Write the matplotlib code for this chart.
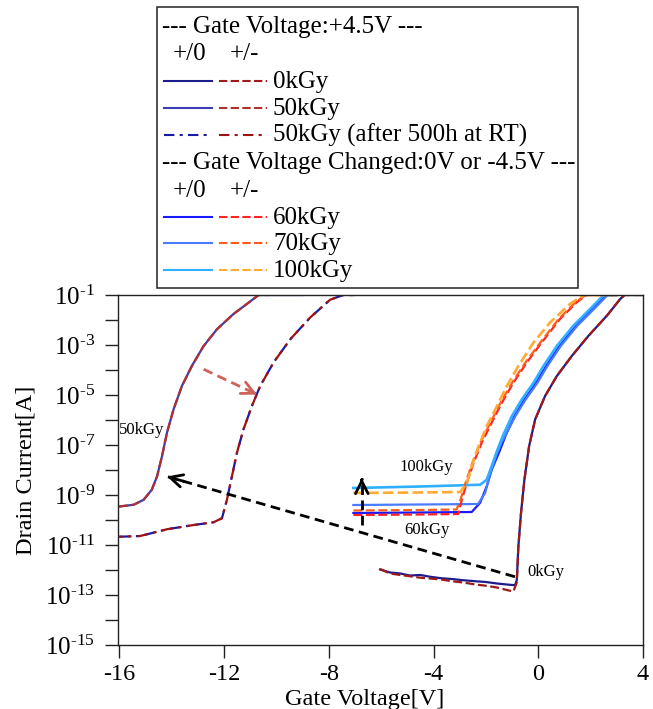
import matplotlib
matplotlib.use('Agg')
import matplotlib.pyplot as plt
from matplotlib.patches import Rectangle
import numpy as np

plt.rcParams['font.family'] = 'Liberation Serif'
plt.rcParams['mathtext.fontset'] = 'custom'
plt.rcParams['mathtext.rm'] = 'Liberation Serif'
plt.rcParams['mathtext.default'] = 'regular'
plt.rcParams['axes.unicode_minus'] = False

# ---- data: gate voltage [V] and log10(drain current [A]) ----
# +4.5V gate, 0kGy
v0_b = [-6.04, -5.66, -5.27, -4.9, -4.5, -4.13, -3.7, -3.3, -2.86, -2.4, -2.0, -1.58, -1.2, -0.89,
        -0.82, -0.76, -0.66, -0.53, -0.35, -0.12, 0.26, 0.71, 1.28, 1.92, 2.62, 3.13, 3.3, 4.0]
l0_b = [-11.98, -12.10, -12.14, -12.22, -12.20, -12.27, -12.33, -12.36, -12.41, -12.45, -12.48, -12.54, -12.58, -12.61,
        -12.41, -11.07, -9.73, -8.39, -7.05, -5.98, -5.04, -4.24, -3.44, -2.63, -1.83, -1.16, -1.0, -1.0]
v0_r = [-6.04, -5.66, -5.27, -4.9, -4.5, -4.13, -3.7, -3.3, -2.86, -2.4, -2.0, -1.58, -1.2, -0.95,
        -0.82, -0.76, -0.66, -0.53, -0.35, -0.12, 0.26, 0.71, 1.28, 1.92, 2.62, 3.13, 3.3, 4.0]
l0_r = [-11.96, -12.14, -12.20, -12.25, -12.31, -12.34, -12.38, -12.45, -12.50, -12.58, -12.63, -12.70, -12.80, -12.86,
        -12.50, -11.07, -9.73, -8.39, -7.05, -5.98, -5.04, -4.24, -3.44, -2.63, -1.83, -1.16, -1.0, -1.0]

# +4.5V gate, 50kGy
v50 = [-16.0, -15.45, -15.07, -14.76, -14.56, -14.37, -14.18, -13.93, -13.61, -13.23, -12.78,
       -12.27, -11.64, -11.13, -10.68]
l50 = [-9.46, -9.39, -9.19, -8.79, -8.26, -7.45, -6.51, -5.58, -4.64, -3.84, -3.04,
       -2.37, -1.76, -1.36, -1.0]
v50_end_b = -9.0
v50_end_r = -10.3

# +4.5V gate, 50kGy after 500h at RT
v50a = [-16.0, -15.2, -14.18, -13.16, -12.4, -12.08, -11.89, -11.70, -11.51, -11.26, -10.94,
        -10.62, -10.11, -9.47, -8.71, -7.95, -7.45, -7.0]
l50a = [-10.67, -10.64, -10.37, -10.20, -10.09, -9.93, -9.19, -8.26, -7.32, -6.38, -5.45,
        -4.64, -3.70, -2.77, -1.90, -1.19, -1.0, -1.0]

# gate changed, 60kGy
v60_b = [-7.06, -4.5, -2.54, -2.22, -1.97, -1.78, -1.48, -1.23, -0.91, -0.53, -0.08, 0.30, 0.81,
         1.44, 2.08, 2.6, 3.0]
l60_b = [-9.72, -9.70, -9.68, -9.31, -8.66, -8.0, -7.25, -6.58, -5.85, -5.18, -4.51, -3.84, -3.04,
         -2.23, -1.56, -1.0, -1.0]
v60_r = [-7.06, -4.5, -3.05, -2.92, -2.73, -2.47, -2.16, -1.78, -1.39, -0.95, -0.44, 0.13, 0.83,
         1.47, 1.85, 3.0]
l60_r = [-9.80, -9.78, -9.76, -9.19, -8.52, -7.72, -6.91, -6.11, -5.31, -4.51, -3.70, -2.90, -1.96,
         -1.29, -1.0, -1.0]

# gate changed, 70kGy
v70_b = [-7.06, -4.5, -2.3, -2.03, -1.85, -1.6, -1.40, -1.15, -0.85, -0.48, -0.03, 0.35, 0.86,
         1.49, 2.13, 2.65, 3.0]
l70_b = [-9.40, -9.38, -9.36, -8.92, -8.2, -7.4, -6.9, -6.4, -5.8, -5.18, -4.51, -3.84, -3.04,
         -2.23, -1.56, -1.0, -1.0]
v70_r = [-7.06, -4.5, -3.12, -2.97, -2.78, -2.52, -2.21, -1.83, -1.44, -1.0, -0.49, 0.08, 0.78,
         1.42, 1.80, 3.0]
l70_r = [-9.62, -9.60, -9.58, -9.19, -8.52, -7.72, -6.91, -6.11, -5.31, -4.51, -3.70, -2.90, -1.96,
         -1.29, -1.0, -1.0]

# gate changed, 100kGy
v100_b = [-7.06, -4.5, -2.22, -1.97, -1.78, -1.58, -1.33, -1.01, -0.63, -0.18, 0.20, 0.71, 1.34,
          1.98, 2.5, 3.0]
l100_b = [-8.72, -8.66, -8.59, -8.39, -7.85, -7.25, -6.58, -5.85, -5.18, -4.51, -3.84, -3.04, -2.23,
          -1.56, -1.0, -1.0]
v100_r = [-7.06, -4.5, -2.98, -2.73, -2.54, -2.28, -1.97, -1.58, -1.20, -0.76, -0.18, 0.45, 1.21,
          1.72, 2.99]
l100_r = [-8.92, -8.90, -8.88, -8.52, -7.85, -7.05, -6.25, -5.45, -4.64, -3.84, -2.90, -2.10, -1.36,
          -1.0, -1.0]

yticks_major = [-15, -13, -11, -9, -7, -5, -3, -1]
yticks_minor = [-14, -12, -10, -8, -6, -4, -2]
xticks = [-16, -12, -8, -4, 0, 4]

# colours
c0b, c0r = '#1c1c8c', '#9e1a1a'
c50b, c50r = '#3c3cb4', '#b03030'
c50ab, c50ar = '#1a1aa8', '#a01212'
c60b, c60r = '#1a1aff', '#ff2222'
c70b, c70r = '#4a7cff', '#ff5c1c'
c100b, c100r = '#2eb0ff', '#ffaa33'

dash = (0, (4, 1.6))
dashdot = (0, (5, 2.5, 1.5, 2.5))
lw = 1.6

fig = plt.figure(figsize=(6.53, 7.09), dpi=100)
ax = fig.add_axes([118 / 653, 1 - 645 / 709, 525 / 653, 350 / 709])


def p(v, l):
    return np.array(v), 10.0 ** np.array(l)


ax.plot(*p(v0_b, l0_b), color=c0b, lw=lw)
ax.plot(*p(v0_r, l0_r), color=c0r, lw=lw, ls=dash)
ax.plot(*p(v50 + [v50_end_b], l50 + [-1.0]), color=c50b, lw=lw)
ax.plot(*p(v50 + [v50_end_r], l50 + [-1.0]), color=c50r, lw=lw, ls=dash)
ax.plot(*p(v50a, l50a), color=c50ab, lw=lw, ls=dashdot)
ax.plot(*p(v50a, l50a), color=c50ar, lw=lw, ls=(3.5, (5, 2.5, 1.5, 2.5)))
ax.plot(*p(v60_b, l60_b), color=c60b, lw=lw)
ax.plot(*p(v70_b, l70_b), color=c70b, lw=lw)
ax.plot(*p(v100_b, l100_b), color=c100b, lw=lw + 0.3)
ax.plot(*p(v60_r, l60_r), color=c60r, lw=lw, ls=dash)
ax.plot(*p(v70_r, l70_r), color=c70r, lw=lw, ls=dash)
ax.plot(*p(v100_r, l100_r), color=c100r, lw=lw + 0.3, ls=dash)

ax.set_yscale('log')
ax.set_xlim(-16.05, 4.0)
ax.set_ylim(1e-15, 1e-1)
ax.set_yticks([10.0 ** e for e in yticks_major])
ax.set_yticklabels([r'$10^{\text{-%d}}$' % -e for e in yticks_major], fontsize=18)
ax.set_yticks([10.0 ** e for e in yticks_minor], minor=True)
ax.set_yticklabels([], minor=True)
ax.set_xticks(xticks)
ax.set_xticklabels([str(x) for x in xticks], fontsize=17.5)
ax.tick_params(axis='both', which='both', direction='out', length=9.5, width=1.0, color='#222222')
ax.tick_params(axis='y', pad=7)
ax.tick_params(axis='x', pad=4)
for s in ax.spines.values():
    s.set_linewidth(1.0)
    s.set_color('#222222')

ax.set_ylabel('Drain Current[A]', fontsize=17.5)
ax.yaxis.set_label_coords(-0.155, 0.5)
ax.set_xlabel('Gate Voltage[V]', fontsize=17.5, va='top')
ax.xaxis.set_label_coords(0.469, -0.125)

# annotations
ax.text(-16.0, 10 ** -6.38, '50kGy', fontsize=12, ha='left', va='center')
ax.text(-4.28, 10 ** -7.87, '100kGy', fontsize=12, ha='center', va='center')
ax.text(-4.24, 10 ** -10.40, '60kGy', fontsize=12, ha='center', va='center')
ax.text(-0.43, 10 ** -12.08, '0kGy', fontsize=12, ha='left', va='center')


def dashed_arrow(v1, l1, v2, l2, color, lw_a):
    ax.plot([v1, v2], [10 ** l1, 10 ** l2], color=color, lw=lw_a, ls=(0, (3.5, 2)))
    vb = v2 - 0.05 * (v2 - v1)
    lb = l2 - 0.05 * (l2 - l1)
    ax.annotate('', xy=(v2, 10 ** l2), xytext=(vb, 10 ** lb),
                arrowprops=dict(arrowstyle='->,head_length=0.9,head_width=0.45',
                                color=color, lw=lw_a, shrinkA=0, shrinkB=0))


dashed_arrow(-12.78, -3.97, -10.74, -4.98, '#cf625a', 2.0)
dashed_arrow(-0.89, -12.27, -14.18, -8.26, 'black', 2.0)
dashed_arrow(-6.74, -10.2, -6.74, -8.32, 'black', 2.0)

# legend drawn in figure pixel coordinates
lg = fig.add_axes([0, 0, 1, 1], zorder=5)
lg.set_xlim(0, 653)
lg.set_ylim(709, 0)
lg.axis('off')
lg.add_patch(Rectangle((157, 7), 421, 281, fill=False, ec='#222222', lw=1.1))

fs = 18
hdr1 = '--- Gate Voltage:+4.5V ---'
hdr2 = '--- Gate Voltage Changed:0V or -4.5V ---'
lg.text(162, 33, hdr1, fontsize=fs, va='baseline')
lg.text(173, 60, '+/0', fontsize=fs, va='baseline')
lg.text(230, 60, '+/-', fontsize=fs, va='baseline')
lg.text(162, 169, hdr2, fontsize=fs, va='baseline')
lg.text(173, 197, '+/0', fontsize=fs, va='baseline')
lg.text(230, 197, '+/-', fontsize=fs, va='baseline')

rows = [
    (88, c0b, c0r, '-', dash, '0kGy'),
    (115, c50b, c50r, '-', dash, '50kGy'),
    (142, c50ab, c50ar, dashdot, dashdot, '50kGy (after 500h at RT)'),
    (224, c60b, c60r, '-', dash, '60kGy'),
    (250, c70b, c70r, '-', dash, '70kGy'),
    (277, c100b, c100r, '-', dash, '100kGy'),
]
for yb, cb, cr, lsb, lsr, lab in rows:
    yl = yb - 7
    lg.plot([164, 212], [yl, yl], color=cb, lw=1.5, ls=lsb)
    lg.plot([219, 267], [yl, yl], color=cr, lw=1.5, ls=lsr)
    lg.text(273, yb, lab, fontsize=fs, va='baseline')

fig.savefig('out.png', dpi=100)
